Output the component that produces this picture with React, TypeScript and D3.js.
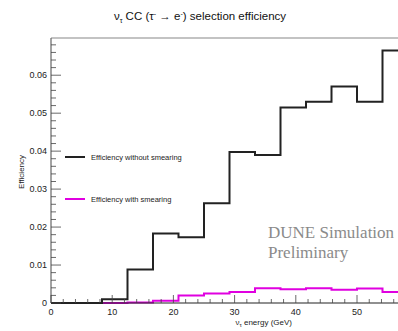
import React from "react";
import * as d3 from "d3";

const binEdges = [0, 4.1667, 8.3333, 12.5, 16.6667, 20.8333, 25, 29.1667, 33.3333, 37.5, 41.6667, 45.8333, 50, 54.1667, 58.3333];
const effNoSmear = [0, 0, 0.001, 0.0088, 0.0183, 0.0173, 0.0263, 0.0398, 0.039, 0.0515, 0.053, 0.057, 0.053, 0.0665];
const effSmear = [0, 0, 0, 0.0001, 0.0006, 0.002, 0.0025, 0.0029, 0.0039, 0.0036, 0.0039, 0.0035, 0.0038, 0.0029];
const xTicks = [0, 10, 20, 30, 40, 50];
const yTicks = [0, 0.01, 0.02, 0.03, 0.04, 0.05, 0.06];

const W = 398, H = 331;
const x = d3.scaleLinear().domain([0, 58.3333]).range([51, 408]);
const y = d3.scaleLinear().domain([0, 0.0698]).range([303, 38]);

function stepPath(vals: number[]) {
  const pts: [number, number][] = [];
  vals.forEach((v, i) => {
    pts.push([x(binEdges[i]), y(v)]);
    pts.push([x(binEdges[i + 1]), y(v)]);
  });
  return d3.line()(pts) || "";
}

export default function App() {
  const xMinor = d3.range(0, 58.01, 2);
  const yMinor = d3.range(0, 0.0698, 0.002);
  const font = "'Liberation Sans', Arial, sans-serif";
  const serif = "'Liberation Serif', 'Times New Roman', serif";
  return (
    <svg width={W} height={H} style={{ position: "absolute", left: 0, top: 0 }} fontFamily={font}>
      <rect width={W} height={H} fill="white" />
      {/* title */}
      <text x={200} y={20} textAnchor="middle" fontSize={11.5} fill="#111">
        ν<tspan fontSize={7} dy={3}>τ</tspan>
        <tspan dy={-3}> CC (τ</tspan>
        <tspan fontSize={7} dy={-4}>-</tspan>
        <tspan dy={4}> → e</tspan>
        <tspan fontSize={7} dy={-4}>-</tspan>
        <tspan dy={4}>) selection efficiency</tspan>
      </text>
      {/* frame */}
      <line x1={51} x2={W} y1={38} y2={38} stroke="#888" strokeWidth={1.2} />
      <line x1={51} x2={51} y1={38} y2={303} stroke="#666" strokeWidth={1.2} />
      {/* histograms */}
      <path d={stepPath(effSmear)} fill="none" stroke="#e000e0" strokeWidth={2} />
      <path d={stepPath(effNoSmear)} fill="none" stroke="#222" strokeWidth={2} />
      <line x1={51} x2={W} y1={303} y2={303} stroke="#222" strokeWidth={1.2} />
      {/* x ticks */}
      {xMinor.map((t) => (
        <line key={"xm" + t} x1={x(t)} x2={x(t)} y1={303} y2={t % 10 === 0 ? 295 : 299} stroke="#444" strokeWidth={0.8} />
      ))}
      {xTicks.map((t) => (
        <text key={"xt" + t} x={x(t)} y={315} textAnchor="middle" fontSize={9} fill="#222">{t}</text>
      ))}
      {/* y ticks */}
      {yMinor.map((t, i) => (
        <line key={"ym" + i} x1={51} x2={i % 5 === 0 ? 61 : 56} y1={y(t)} y2={y(t)} stroke="#444" strokeWidth={0.8} />
      ))}
      {yTicks.map((t) => (
        <text key={"yt" + t} x={47} y={y(t) + 3} textAnchor="end" fontSize={9} fill="#222">{t === 0 ? "0" : t.toFixed(2)}</text>
      ))}
      {/* axis titles */}
      <text transform="translate(24,172) rotate(-90)" textAnchor="middle" fontSize={8} fill="#222">Efficiency</text>
      <text x={292} y={325} textAnchor="end" fontSize={8} fill="#222">
        ν<tspan fontSize={6} dy={2}>τ</tspan><tspan dy={-2}> energy (GeV)</tspan>
      </text>
      {/* legend */}
      <line x1={65} x2={85} y1={157} y2={157} stroke="#222" strokeWidth={2} />
      <text x={91} y={160} fontSize={7.5} fill="#222">Efficiency without smearing</text>
      <line x1={65} x2={85} y1={199} y2={199} stroke="#e000e0" strokeWidth={2} />
      <text x={91} y={202} fontSize={7.5} fill="#222">Efficiency with smearing</text>
      {/* watermark */}
      <text x={268} y={238} fontSize={17} fill="#8a8a8a" fontFamily={serif}>DUNE Simulation</text>
      <text x={268} y={258} fontSize={17} fill="#8a8a8a" fontFamily={serif}>Preliminary</text>
    </svg>
  );
}
